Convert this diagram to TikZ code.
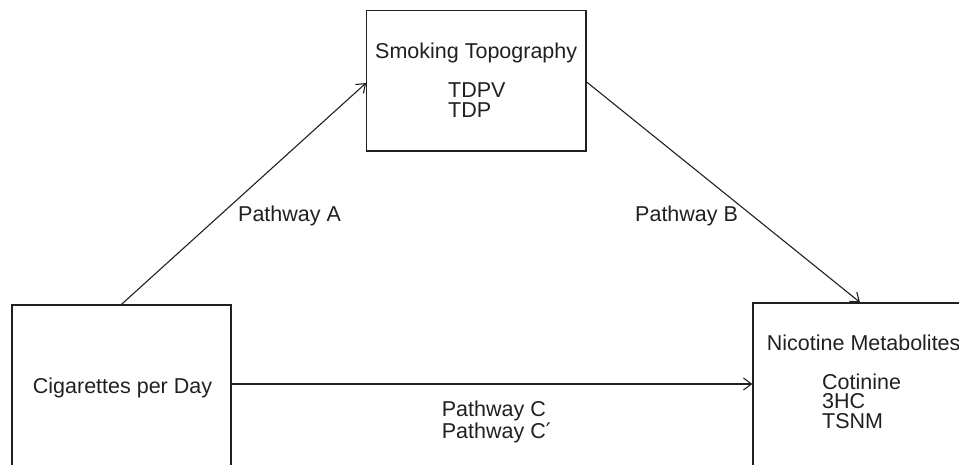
\documentclass[tikz,border=0pt]{standalone}
\usepackage{fontspec}
\setmainfont{Liberation Sans}
\newfontfamily\primefont{DejaVu Sans}
\usetikzlibrary{arrows.meta}
\definecolor{ink}{HTML}{231F20}
\begin{document}
\begin{tikzpicture}[x=1pt,y=-1pt,
  box/.style={draw=ink,line width=1.3pt,minimum width=#1,inner sep=0pt},
  lbl/.style={anchor=base west,inner sep=0pt,text=ink,font=\fontsize{21.5}{22}\selectfont},
  conn/.style={draw=ink,line width=1.1pt,-{Straight Barb[length=8pt,width=12pt,line width=1.1pt]}}]
\useasboundingbox (0,0) rectangle (959,464);
\clip (0,0) rectangle (959,464);
% boxes
\node[box=219.3pt,minimum height=140.3pt] (top) at (476.35,80.85) {};
\node[box=219pt,minimum height=180pt] (left) at (121.5,395) {};
\node[box=214pt,minimum height=180pt] (right) at (860,393) {};
% texts
\node[lbl] (t1) at (375,58) {Smoking Topography};
\node[lbl] (t2) at (448,97) {TDPV};
\node[lbl] (t3) at (448,117) {TDP};
\node[lbl] (t4) at (32.7,393) {Cigarettes per Day};
\node[lbl] (t5) at (766.7,350) {Nicotine Metabolites};
\node[lbl] (t6) at (822,389) {Cotinine};
\node[lbl] (t7) at (822,408.5) {3HC};
\node[lbl] (t8) at (822,428) {TSNM};
\node[lbl] (pa) at (238,221) {Pathway A};
\node[lbl] (pb) at (635,221) {Pathway B};
\node[lbl] (pc) at (441.7,416) {Pathway C};
\node[lbl] (pc2) at (441.7,438) {Pathway C{\primefont ′}};
% connectors
\coordinate (cA) at (top.west |- 0,83);
\coordinate (cC) at (left.east |- 0,384);
\draw[conn] (left.north) -- (cA);
\draw[conn] (top.east |- 0,82) -- (right.north);
\draw[conn] (cC) -- (right.west |- cC);
\end{tikzpicture}
\end{document}
